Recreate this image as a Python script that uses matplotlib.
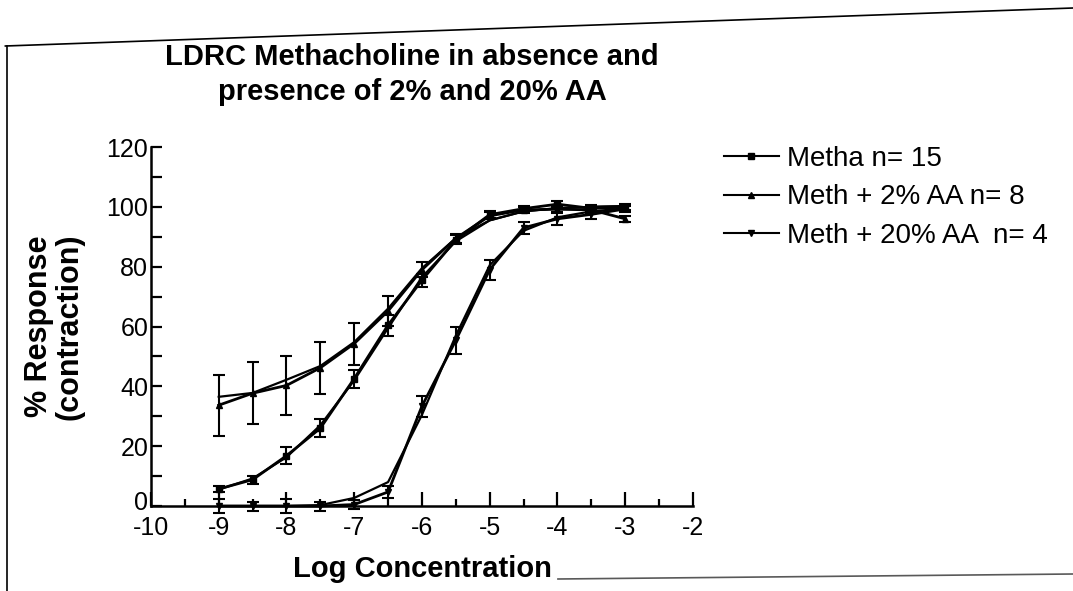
import matplotlib
matplotlib.use("Agg")
import matplotlib.pyplot as plt
import matplotlib.transforms as mtransforms
from matplotlib.lines import Line2D

plt.rcParams['font.family'] = ['Liberation Sans', 'DejaVu Sans']
plt.rcParams['axes.unicode_minus'] = False

# log concentration (M)
log_conc = [-9, -8.5, -8, -7.5, -7, -6.5, -6, -5.5, -5, -4.5, -4, -3.5, -3]

# Metha n=15
metha_mean = [5.7, 8.8, 16.8, 26.0, 42.6, 60.5, 75.5, 89.0, 97.4, 99.4, 100.9, 99.5, 99.9]
metha_sem = [1.0, 1.3, 2.8, 3.0, 3.0, 3.5, 2.2, 1.5, 1.2, 1.0, 1.0, 1.2, 1.0]
metha_fit = [5.5, 9.2, 16.3, 27.0, 42.0, 59.5, 76.5, 88.5, 95.5, 98.5, 99.6, 100.0, 100.3]

# Meth + 2% AA n=8
aa2_mean = [33.7, 37.7, 40.3, 46.2, 54.3, 65.2, 79.0, 89.5, 97.0, 99.0, 99.2, 99.0, 96.0]
aa2_sem = [10.2, 10.3, 10.0, 8.6, 7.0, 5.0, 2.5, 1.5, 1.2, 1.0, 1.0, 1.0, 1.0]
aa2_fit = [36.5, 37.8, 42.2, 46.8, 54.8, 66.0, 79.5, 89.5, 95.5, 98.5, 99.5, 100.0, 100.2]

# Meth + 20% AA n=4
aa20_mean = [0.0, 0.0, 0.0, 0.0, 0.5, 4.7, 33.4, 55.4, 79.0, 93.0, 96.0, 97.5, 99.3]
aa20_sem = [2.5, 1.5, 2.5, 1.5, 1.5, 2.0, 3.5, 4.5, 3.3, 2.0, 2.0, 1.5, 1.0]
aa20_fit = [0.0, 0.0, 0.0, 0.3, 2.7, 8.0, 30.5, 57.0, 80.5, 92.0, 96.5, 98.5, 99.5]

labels = ['Metha n= 15', 'Meth + 2% AA n= 8', 'Meth + 20% AA  n= 4']
markers = ['s', '^', 'v']

fig = plt.figure(figsize=(10.73, 5.91), dpi=100)
ax = fig.add_axes([0.1407, 0.1438, 0.5051, 0.6074])

series = [(metha_mean, metha_sem, metha_fit),
          (aa2_mean, aa2_sem, aa2_fit),
          (aa20_mean, aa20_sem, aa20_fit)]

for (m, s, f), mk in zip(series, markers):
    ax.errorbar(log_conc, m, yerr=s, fmt='-', marker=mk, ms=5, color='black',
                lw=2.0, elinewidth=1.5, capsize=4, capthick=1.5, clip_on=False)
    ax.plot(log_conc, f, '-', color='black', lw=1.6, clip_on=False)

ax.set_xlim(-10, -2)
ax.set_ylim(0, 120)
ax.set_xticks(range(-10, -1))
ax.set_xticks([x + 0.5 for x in range(-10, -2)], minor=True)
ax.set_yticks(range(0, 121, 20))
ax.set_yticks(range(10, 120, 20), minor=True)

for side in ['top', 'right']:
    ax.spines[side].set_visible(False)
for side in ['left', 'bottom']:
    ax.spines[side].set_linewidth(1.8)

ax.tick_params(axis='y', which='both', direction='in', length=8, width=1.6,
               labelsize=18, pad=2)
ax.tick_params(axis='x', which='major', direction='in', length=10, width=1.6,
               labelsize=18, pad=7)
ax.tick_params(axis='x', which='minor', direction='in', length=5, width=1.6)

# nudge the "0" up a little so it sits above the "-10"
zero_lab = ax.get_yticklabels()[0]
zero_lab.set_transform(zero_lab.get_transform() +
                       mtransforms.ScaledTranslation(0, 4 / 72, fig.dpi_scale_trans))

ax.set_xlabel('Log Concentration', fontsize=21, fontweight='bold', labelpad=11)
ax.set_ylabel('% Response\n(contraction)', fontsize=22, fontweight='bold',
              labelpad=16, linespacing=1.0)

fig.text(0.384, 0.874, 'LDRC Methacholine in absence and\npresence of 2% and 20% AA',
         ha='center', va='center', fontsize=21, fontweight='bold', linespacing=1.3)

handles = [Line2D([0], [0], color='black', lw=1.5, marker=mk, ms=4) for mk in markers]
leg = fig.legend(handles, labels, loc='upper left', bbox_to_anchor=(0.664, 0.772),
                 frameon=False, fontsize=20, handlelength=2.0, handletextpad=0.3,
                 labelspacing=0.45, borderaxespad=0)

# scanned page frame
fig.add_artist(Line2D([0.005, 1.0], [1 - 46 / 591, 1 - 8 / 591], color='black', lw=1.2))
fig.add_artist(Line2D([0.0065, 0.0065], [0, 1 - 46 / 591], color='black', lw=1.2))
fig.add_artist(Line2D([0.52, 1.0], [1 - 579 / 591, 1 - 574 / 591], color='0.35', lw=1.2))

fig.savefig('out.png', dpi=100)
